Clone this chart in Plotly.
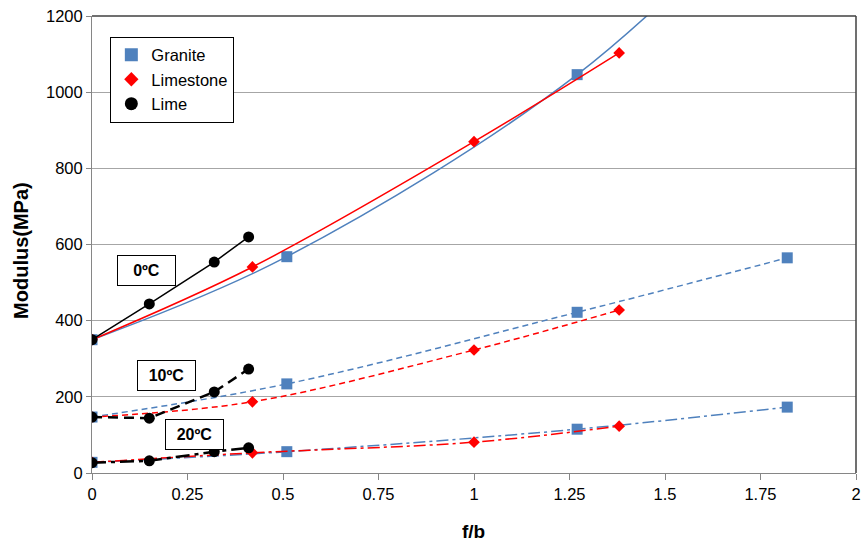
import plotly.graph_objects as go

# ---- data ----
x_granite = [0, 0.51, 1.27, 1.82]
granite_0 = [350, 568, 1046, 1560]
granite_10 = [147, 234, 422, 565]
granite_20 = [28, 56, 115, 173]

x_limestone = [0, 0.42, 1.0, 1.38]
limestone_0 = [350, 541, 870, 1103]
limestone_10 = [147, 187, 323, 428]
limestone_20 = [28, 53, 81, 123]

x_lime = [0, 0.15, 0.32, 0.41]
lime_0 = [350, 444, 554, 620]
lime_10 = [147, 144, 213, 273]
lime_20 = [27, 32, 56, 66]

x_ticks = [0, 0.25, 0.5, 0.75, 1, 1.25, 1.5, 1.75, 2]
x_tick_labels = ["0", "0.25", "0.5", "0.75", "1", "1.25", "1.5", "1.75", "2"]
y_ticks = [0, 200, 400, 600, 800, 1000, 1200]

temp_labels = ["0ºC", "10ºC", "20ºC"]
label_pos = [(0.143, 533), (0.194, 257), (0.268, 100)]

BLUE = "#4F81BD"
RED = "#FF0000"
BLACK = "#000000"
FONT = "Liberation Sans, Arial, sans-serif"

fig = go.Figure()

def add(x, y, color, symbol, msize, dash, width, shape="spline"):
    fig.add_trace(go.Scatter(
        x=x, y=y, mode="lines+markers", showlegend=False, cliponaxis=True,
        line=dict(color=color, width=width, dash=dash, shape=shape),
        marker=dict(color=color, symbol=symbol, size=msize),
    ))

# granite
add(x_granite, granite_0, BLUE, "square", 11, "solid", 1.5)
add(x_granite, granite_10, BLUE, "square", 11, "6px,4px", 1.5)
add(x_granite, granite_20, BLUE, "square", 11, "12px,4px,3px,4px", 1.5)
# limestone
add(x_limestone, limestone_0, RED, "diamond", 9, "solid", 1.5)
add(x_limestone, limestone_10, RED, "diamond", 9, "6px,4px", 1.5)
add(x_limestone, limestone_20, RED, "diamond", 9, "12px,4px,3px,4px", 1.5)
# lime
add(x_lime, lime_0, BLACK, "circle", 11, "solid", 1.5, "linear")
add(x_lime, lime_10, BLACK, "circle", 11, "10px,6px", 2.5, "linear")
add(x_lime, lime_20, BLACK, "circle", 11, "14px,5px,4px,5px", 2.5, "linear")

# legend entries
for name, color, symbol, size in [("Granite", BLUE, "square", 13),
                                  ("Limestone", RED, "diamond", 11),
                                  ("Lime", BLACK, "circle", 13)]:
    fig.add_trace(go.Scatter(x=[None], y=[None], mode="markers", name=name,
                             marker=dict(color=color, symbol=symbol, size=size)))

for txt, (lx, ly) in zip(temp_labels, label_pos):
    fig.add_annotation(x=lx, y=ly, text="<b>%s</b>" % txt, showarrow=False,
                       font=dict(family=FONT, size=16, color="black"),
                       bordercolor="black", borderwidth=1, bgcolor="white",
                       width=55, height=27)

# axis titles
fig.add_annotation(xref="paper", yref="paper", x=0.499, y=-0.127,
                   text="<b>f/b</b>", showarrow=False,
                   font=dict(family=FONT, size=19, color="black"),
                   xanchor="center", yanchor="middle", height=22)
fig.add_annotation(xref="paper", yref="paper", x=-0.093, y=0.488,
                   text="<b>Modulus(MPa)</b>", showarrow=False, textangle=-90,
                   font=dict(family=FONT, size=20, color="black"),
                   xanchor="center", yanchor="middle")

# top and right border
fig.add_shape(type="line", xref="paper", yref="paper", x0=0, x1=1, y0=1, y1=1,
              line=dict(color="#404040", width=1.5))
fig.add_shape(type="line", xref="paper", yref="paper", x0=1, x1=1, y0=0, y1=1,
              line=dict(color="#404040", width=1.5))

fig.update_layout(
    width=861, height=541,
    margin=dict(l=92, r=5, t=16, b=68),
    plot_bgcolor="white", paper_bgcolor="white",
    font=dict(family=FONT, size=16, color="black"),
    legend=dict(x=0.024, y=0.955, xanchor="left", yanchor="top",
                bordercolor="black", borderwidth=1, bgcolor="white",
                font=dict(size=16.5), itemwidth=30, tracegroupgap=4),
    xaxis=dict(range=[0, 2], tickvals=x_ticks, ticktext=x_tick_labels, automargin=False,
               showgrid=False, zeroline=False, showline=True, linecolor="#868686",
               linewidth=1, ticks="outside", ticklen=6, tickcolor="#868686",
               tickfont=dict(size=16.5)),
    yaxis=dict(range=[0, 1200], tickvals=y_ticks, showgrid=True, gridcolor="#A6A6A6",
               gridwidth=1, zeroline=False, showline=True, linecolor="#868686", automargin=False,
               linewidth=1, ticks="outside", ticklen=5, tickcolor="#868686",
               tickfont=dict(size=16.5)),
)

fig.write_html("out.html", config={"displayModeBar": False},
               post_script="document.body.style.margin='0';document.body.style.overflow='hidden';")
